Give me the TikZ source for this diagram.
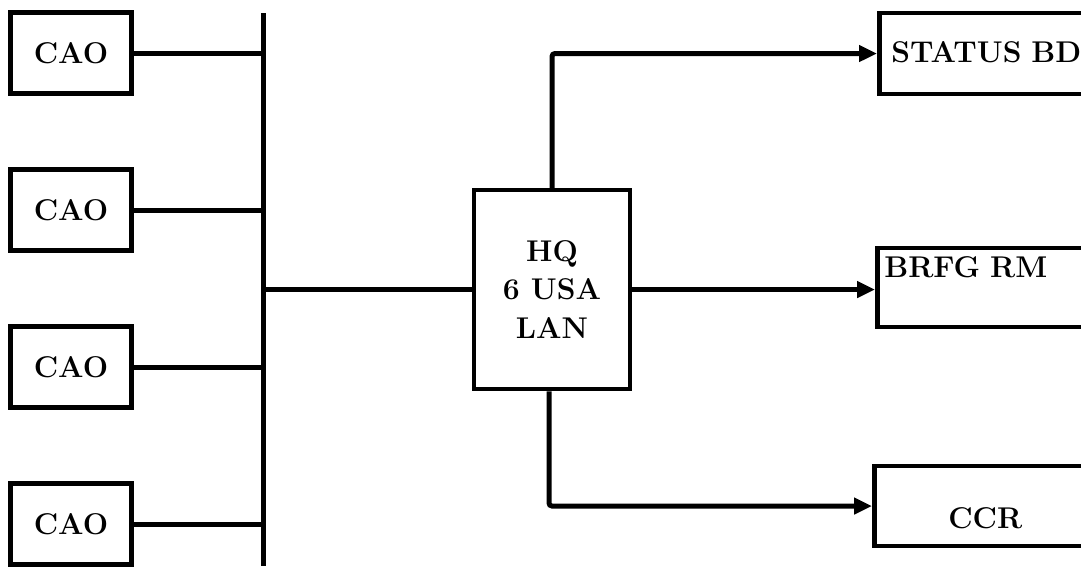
\documentclass[tikz,border=0pt]{standalone}
\usepackage{fontspec}
\usetikzlibrary{arrows.meta, positioning, calc, fit}
\tikzset{
  box/.style={draw, line width=4.5pt, inner sep=0pt, font=\fontsize{30}{38.5}\selectfont\bfseries},
  link/.style={line width=5pt},
  feed/.style={line width=5pt, rounded corners=3pt, -{Triangle[length=18pt,width=16pt]}},
}

\begin{document}
\begin{tikzpicture}[x=1pt, y=-1pt]
\useasboundingbox (0,0) rectangle (1081,566);
\clip (0,0) rectangle (1081,566);

% bus line on the left
\coordinate (bustop) at (263,13);
\coordinate (busbot) at (263,566);
\draw[link] (bustop) -- (busbot);

\foreach \i/\y in {1/53,2/210,3/367,4/524} {
  \node[box, minimum width=121pt, minimum height=81pt] (cao\i) at (71,\y) {CAO};
  \draw[link] (cao\i.east) -- (cao\i.east -| bustop);
}

\node[box, minimum width=156pt, minimum height=199pt, align=center] (hq) at (552,289.5) {HQ\\6 USA\\LAN};
\draw[link] (hq.west) -- (hq.west -| bustop);

% outputs on the right
\node[box, anchor=west, minimum height=81pt, text width=200pt, inner xsep=12pt,
      align=left, text height=20pt, text depth=2pt] (status) at (877,53.5) {STATUS BD};
\node[box, anchor=west, minimum height=79pt, text width=200pt, inner xsep=7pt,
      align=left, text height=20pt, text depth=40pt] (brfg) at (875,287.5) {BRFG RM};
\node[box, anchor=west, minimum height=80pt, text width=200pt, inner xsep=11pt,
      align=center, text height=46pt, text depth=2pt] (ccr) at (872,506) {CCR};

\draw[feed] (hq.north) |- (status.west);
\draw[feed] (hq.east) -- (brfg.west |- hq.east);
\draw[feed] ([xshift=-3pt]hq.south) |- (ccr.west);
\end{tikzpicture}
\end{document}
